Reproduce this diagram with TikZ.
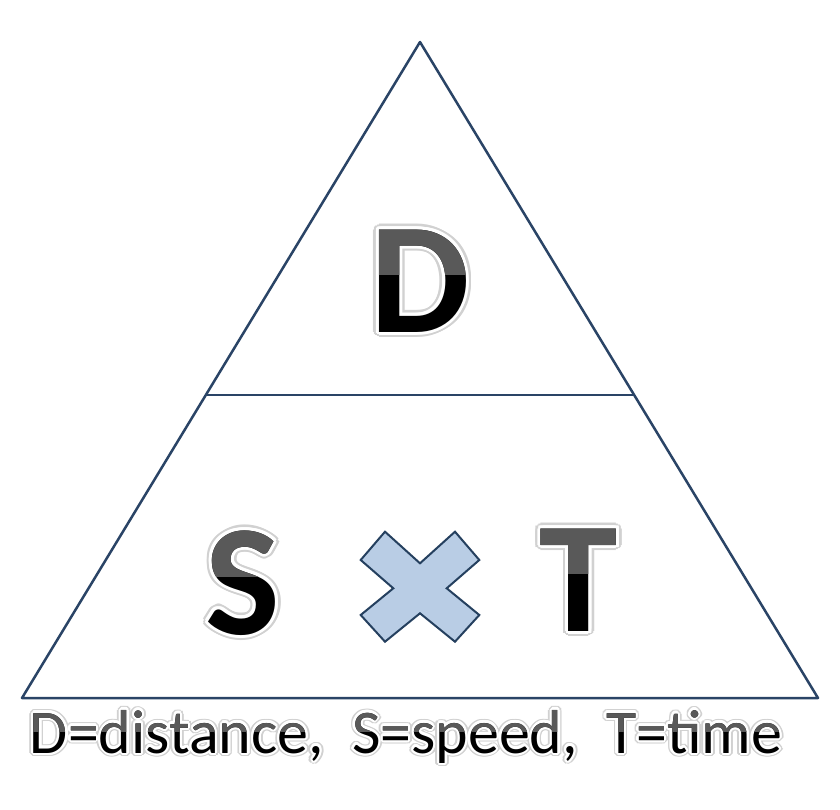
\documentclass[tikz,border=0pt]{standalone}
\usepackage{fontspec}
\setmainfont{Carlito}
\usetikzlibrary{calc}
\definecolor{edgeblue}{HTML}{2A4466}
\definecolor{crossfill}{HTML}{B9CDE5}
\definecolor{crossedge}{HTML}{25405F}
\definecolor{topgray}{HTML}{595959}

% glossy letters: name, base point, size, height of the gray part, outline, text
\newcommand{\glossy}[6]{%
  \foreach \a in {0,22.5,...,359}
    \node[anchor=base, inner sep=0pt, text=black!18] at ($(#2)+(\a:1.8*#5)$) {\fontsize{#3}{#3}\selectfont #6};
  \foreach \a in {0,22.5,...,359}
    \node[anchor=base, inner sep=0pt, text=white] at ($(#2)+(\a:#5)$) {\fontsize{#3}{#3}\selectfont #6};
  \node[anchor=base, inner sep=0pt, text=black] (#1) at (#2) {\fontsize{#3}{#3}\selectfont #6};
  \begin{scope}
    \clip ($(#2)+(-500,-#4)$) rectangle ($(#2)+(500,-400)$);
    \node[anchor=base, inner sep=0pt, text=topgray] at (#2) {\fontsize{#3}{#3}\selectfont #6};
  \end{scope}
}

\begin{document}
\begin{tikzpicture}[x=1pt, y=-1pt]
  \useasboundingbox[fill=white] (0,0) rectangle (840,810);

  % triangle
  \coordinate (apex) at (420,42);
  \coordinate (bl) at (22,698);
  \coordinate (br) at (818,698);
  \draw[edgeblue, line width=2.5pt, line join=round] (apex) -- (bl) -- (br) -- cycle;
  \coordinate (ml) at ($(apex)!0.538!(bl)$);
  \coordinate (mr) at ($(apex)!0.538!(br)$);
  \draw[edgeblue, line width=2.5pt] (ml) -- (mr);

  % letters
  \coordinate (dpos) at (420,332);
  \coordinate (spos) at (243,634);
  \coordinate (tpos) at (579,631);
  \glossy{dist}{dpos}{158}{58}{3}{\bfseries D}
  \glossy{speed}{spos}{158}{58}{3}{\bfseries S}
  \glossy{time}{tpos}{158}{58}{3}{\bfseries T}

  % times sign
  \draw[crossedge, fill=crossfill, line width=2pt, line join=miter]
    (385,531.7) -- (420,563.3) -- (455,531.7) -- (479.3,560) -- (446.7,588.3)
    -- (479.3,615) -- (455,641.7) -- (420,613.3) -- (385,641.7) -- (360.7,615)
    -- (393.3,588.3) -- (360.7,560) -- cycle;

  % legend
  \coordinate (keypos) at (406,753);
  \glossy{key}{keypos}{62}{22}{2.2}{D=distance,\ \ S=speed,\ \ T=time}
\end{tikzpicture}
\end{document}
